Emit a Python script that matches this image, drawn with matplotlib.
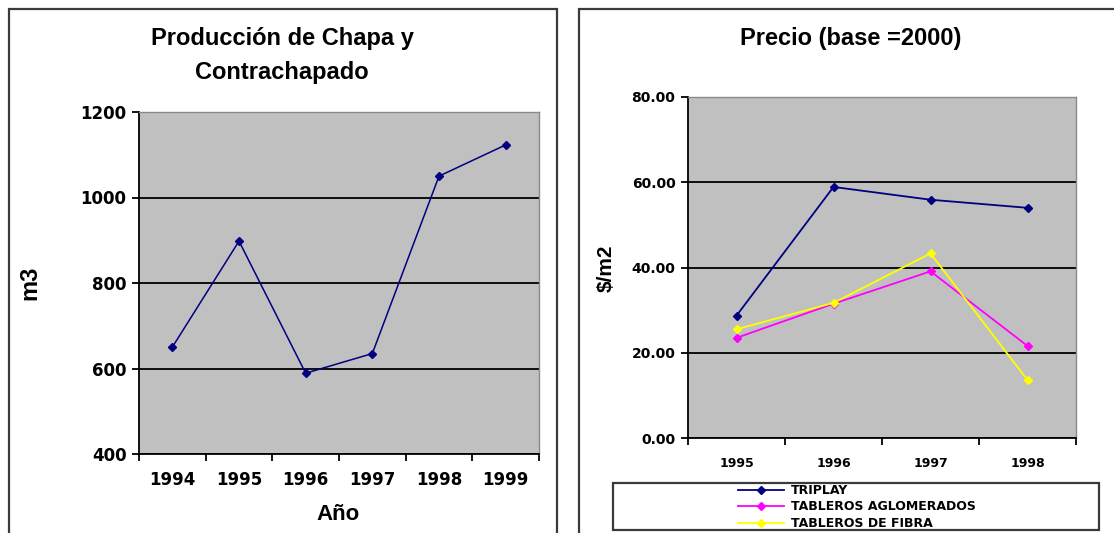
import matplotlib.pyplot as plt
from matplotlib.patches import Rectangle
from matplotlib.ticker import FixedLocator
import numpy as np

# production of veneer and plywood (m3)
years_prod = ["1994", "1995", "1996", "1997", "1998", "1999"]
production = [650, 898, 589, 635, 1050, 1123]

# prices, base year 2000 ($/m2)
years_price = ["1995", "1996", "1997", "1998"]
triplay = [28.7, 58.9, 55.9, 54.0]
aglomerados = [23.5, 31.5, 39.1, 21.6]
fibra = [25.5, 31.7, 43.3, 13.6]

W, H = 1114, 533
fig = plt.figure(figsize=(W / 100, H / 100), dpi=100)
fig.patch.set_facecolor("white")

FONT = "Liberation Sans"
TICKFONT = "DejaVu Sans"


def fx(px):
    return px / W


def fy(py):
    return (H - py) / H


def panel_box(x0, x1):
    fig.patches.append(Rectangle((fx(x0), -0.05), fx(x1 - x0), fy(9) + 0.05,
                                 transform=fig.transFigure, fill=False,
                                 edgecolor="#3a3a3a", linewidth=1.6))


def style_axes(ax, n):
    ax.set_facecolor("#c0c0c0")
    ax.set_xlim(-0.5, n - 0.5)
    for s in ("top", "right"):
        ax.spines[s].set_color("#8a8a8a")
        ax.spines[s].set_linewidth(1.0)
    for s in ("left", "bottom"):
        ax.spines[s].set_color("black")
        ax.spines[s].set_linewidth(1.3)
    ax.yaxis.grid(True, color="black", linewidth=1.3)
    ax.set_axisbelow(True)
    ax.set_xticks(np.arange(n))
    ax.xaxis.set_minor_locator(FixedLocator(np.arange(-0.5, n, 1.0)))
    ax.tick_params(axis="x", which="major", length=0, pad=12)
    ax.tick_params(axis="x", which="minor", length=5, width=1.3, direction="out")
    ax.tick_params(axis="y", length=5, width=1.3, direction="out", pad=4)


panel_box(9, 557)
panel_box(579, 1130)

# left chart
ax1 = fig.add_axes([fx(139), fy(454), fx(400), fy(112) - fy(454)])
style_axes(ax1, len(years_prod))
ax1.set_ylim(400, 1200)
ax1.set_yticks([400, 600, 800, 1000, 1200])
ax1.set_xticklabels(years_prod)
ax1.plot(np.arange(len(production)), production, color="#000080",
         linewidth=1.1, marker="D", markersize=4.5, clip_on=False)
for lab in ax1.get_xticklabels() + ax1.get_yticklabels():
    lab.set_fontfamily(TICKFONT)
    lab.set_fontweight("bold")
    lab.set_fontsize(12)

fig.text(fx(282), fy(39), "Producción de Chapa y", ha="center", va="center",
         fontsize=17, fontweight="bold", family=FONT)
fig.text(fx(282), fy(72), "Contrachapado", ha="center", va="center",
         fontsize=17, fontweight="bold", family=FONT)
fig.text(fx(30), fy(283), "m3", ha="center", va="center", rotation=90,
         fontsize=17, fontweight="bold", family=FONT)
fig.text(fx(338), fy(514), "Año", ha="center", va="center",
         fontsize=16, fontweight="bold", family=FONT)

# right chart
ax2 = fig.add_axes([fx(688), fy(438), fx(388), fy(97) - fy(438)])
style_axes(ax2, len(years_price))
ax2.set_ylim(0, 80)
ax2.set_yticks([0, 20, 40, 60, 80])
ax2.set_yticklabels(["%.2f" % v for v in [0, 20, 40, 60, 80]])
ax2.set_xticklabels(years_price)
ax2.tick_params(axis="x", which="major", pad=14)
xs = np.arange(len(years_price))
ax2.plot(xs, triplay, color="#000080", linewidth=1.3, marker="D",
         markersize=4.5, label="TRIPLAY")
ax2.plot(xs, aglomerados, color="#ff00ff", linewidth=1.3, marker="D",
         markersize=4.5, label="TABLEROS AGLOMERADOS")
ax2.plot(xs, fibra, color="#ffff00", linewidth=1.3, marker="D",
         markersize=4.5, label="TABLEROS DE FIBRA")
for lab in ax2.get_yticklabels():
    lab.set_fontfamily(TICKFONT)
    lab.set_fontweight("bold")
    lab.set_fontsize(10)
for lab in ax2.get_xticklabels():
    lab.set_fontfamily(TICKFONT)
    lab.set_fontweight("bold")
    lab.set_fontsize(9)

fig.text(fx(851), fy(39), "Precio (base =2000)", ha="center", va="center",
         fontsize=17, fontweight="bold", family=FONT)
fig.text(fx(606), fy(268), "$/m2", ha="center", va="center", rotation=90,
         fontsize=15, fontweight="bold", family=FONT)

# legend box under the price chart
fig.patches.append(Rectangle((fx(613), fy(530)), fx(1099 - 613), fy(483) - fy(530),
                             transform=fig.transFigure, facecolor="white",
                             edgecolor="#3a3a3a", linewidth=1.6))
leg = fig.legend(*ax2.get_legend_handles_labels(), loc="center",
                 bbox_to_anchor=(fx(857), fy(507)), frameon=False,
                 prop={"family": TICKFONT, "weight": "bold", "size": 9},
                 handlelength=3.7, handletextpad=0.55, labelspacing=0.28,
                 borderpad=0)

fig.savefig("out.png", dpi=100)
